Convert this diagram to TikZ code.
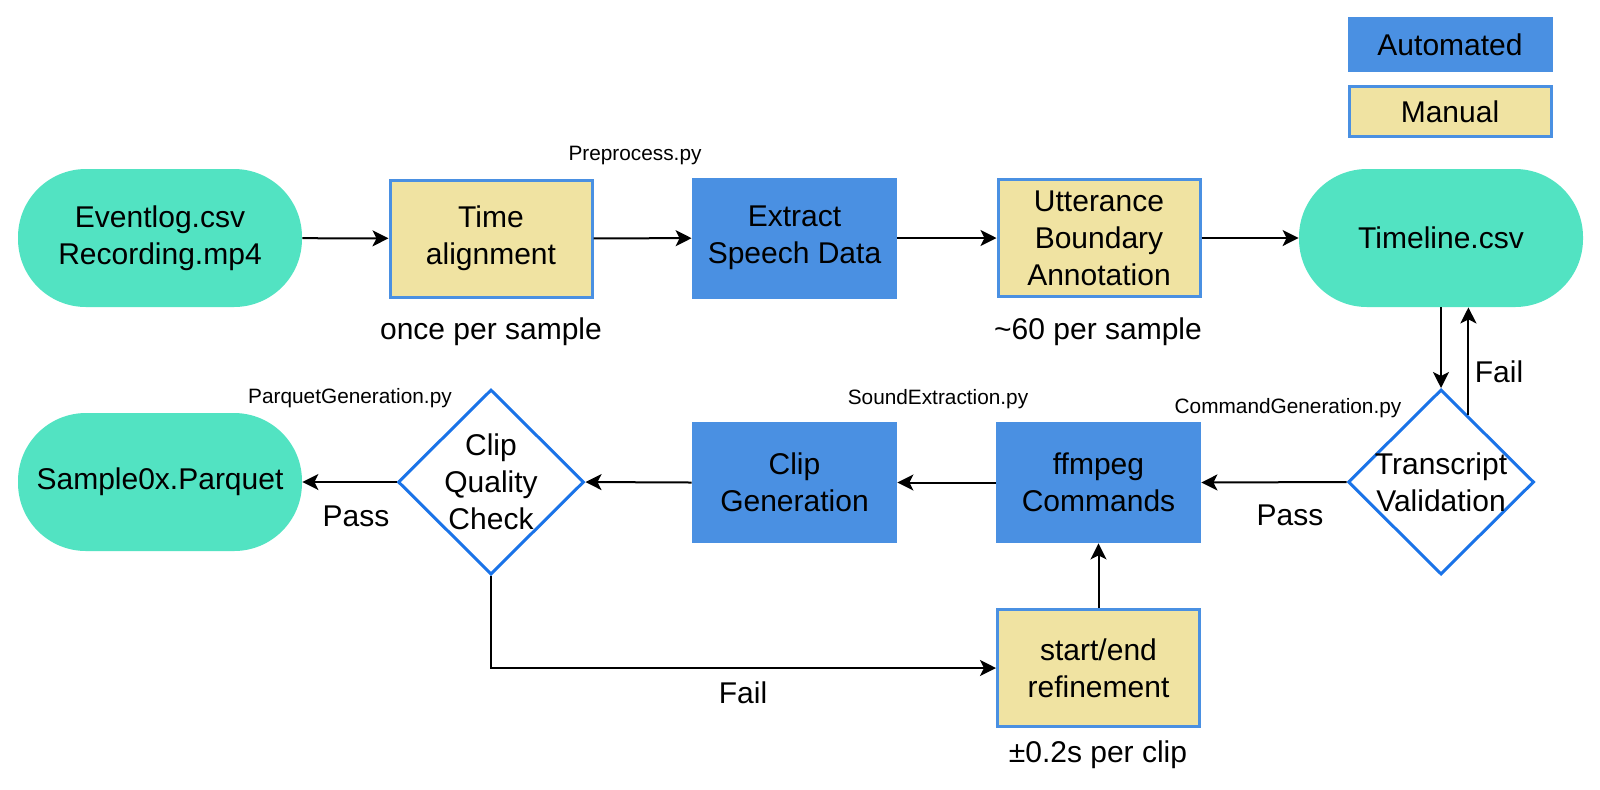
\documentclass[tikz,border=0pt]{standalone}
\usepackage{fontspec}
\setmainfont{Liberation Sans}
\definecolor{tealfill}{RGB}{82,227,194}
\definecolor{autoblue}{RGB}{74,144,226}
\definecolor{manualfill}{RGB}{240,227,162}
\definecolor{checkblue}{RGB}{26,115,232}
\usetikzlibrary{arrows.meta,shapes.geometric,calc}

\begin{document}
\begin{tikzpicture}[x=0.5pt, y=-0.5pt,
    every node/.style={font=\fontsize{15}{18.5}\selectfont, align=center},
    datafile/.style={fill=tealfill, rounded corners=34pt, minimum width=142pt, minimum height=69pt, inner sep=0pt},
    autobox/.style={fill=autoblue, minimum width=102.5pt, minimum height=60.5pt, inner sep=0pt},
    manualbox/.style={fill=manualfill, draw=autoblue, line width=1.5pt, minimum width=101pt, minimum height=58.5pt, inner sep=0pt},
    checkbox/.style={diamond, draw=checkblue, line width=1.5pt, fill=white, minimum width=93pt, minimum height=92.5pt, inner sep=0pt},
    script/.style={font=\fontsize{10.4}{12.5}\selectfont},
    flow/.style={-{Stealth[length=8pt,width=8pt,inset=2pt]}, line width=1pt}]
  \useasboundingbox (0,0) rectangle (1600,789);

  % legend
  \node[autobox, minimum height=27.5pt] (auto) at (1450,44.5) {Automated};
  \node[manualbox, minimum height=25pt] (manual) at (1450,111.5) {Manual};

  % top row
  \node[datafile] (ev) at (160,238) {Eventlog.csv\\Recording.mp4};
  \node[manualbox] (ta) at (491,238.5) {Time\\alignment};
  \node[autobox] (ex) at (794.5,238) {Extract\\Speech Data};
  \node[manualbox] (ut) at (1099,238) {Utterance\\Boundary\\Annotation};
  \node[datafile] (tl) at (1441,238) {Timeline.csv};

  % bottom row
  \node[checkbox] (tv) at (1441,482) {};
  \node (tvtext) at (tv.center) {Transcript\\Validation};
  \node[autobox] (ff) at (1098.5,482.5) {ffmpeg\\Commands};
  \node[autobox] (cg) at (794.5,482.5) {Clip\\Generation};
  \node[checkbox] (cq) at (491,482) {};
  \node (cqtext) at (cq.center) {Clip\\Quality\\Check};
  \node[datafile] (sp) at (160,482) {Sample0x.Parquet};
  \node[manualbox] (se) at (1098.5,668) {start/end\\refinement};

  % scripts and notes
  \node[script] (pre) at (635,155) {Preprocess.py};
  \node[script] (cmd) at (1288,408) {CommandGeneration.py};
  \node[script] (snd) at (938,399) {SoundExtraction.py};
  \node[script] (par) at (350,398) {ParquetGeneration.py};
  \node (once) at (491,332) {once per sample};
  \node (sixty) at (1098,332) {\textasciitilde60 per sample};
  \node (clipnote) at (1098,755) {±0.2s per clip};

  % connectors
  \draw[flow] (ev) -- (ta);
  \draw[flow] (ta) -- (ex);
  \draw[flow] (ex) -- (ut);
  \draw[flow] (ut) -- (tl);
  \draw[flow] (tl.south) -- (tv.north);
  \coordinate (failpt) at ($(tv.north)!0.29!(tv.east)$);
  \draw[flow] (failpt) -- (failpt |- tl.south);
  \node (failtop) at (1499,372) {Fail};
  \draw[flow] (tv.west) -- (ff.east);
  \node (passright) at (1290,515) {Pass};
  \draw[flow] (ff) -- (cg);
  \draw[flow] (cg.west) -- (cq.east);
  \draw[flow] (cq.west) -- (sp.east);
  \node (passleft) at (356,516) {Pass};
  \draw[flow] (cq.south) |- (se.west);
  \node (failbottom) at (743,693) {Fail};
  \draw[flow] (se) -- (ff);
\end{tikzpicture}
\end{document}
